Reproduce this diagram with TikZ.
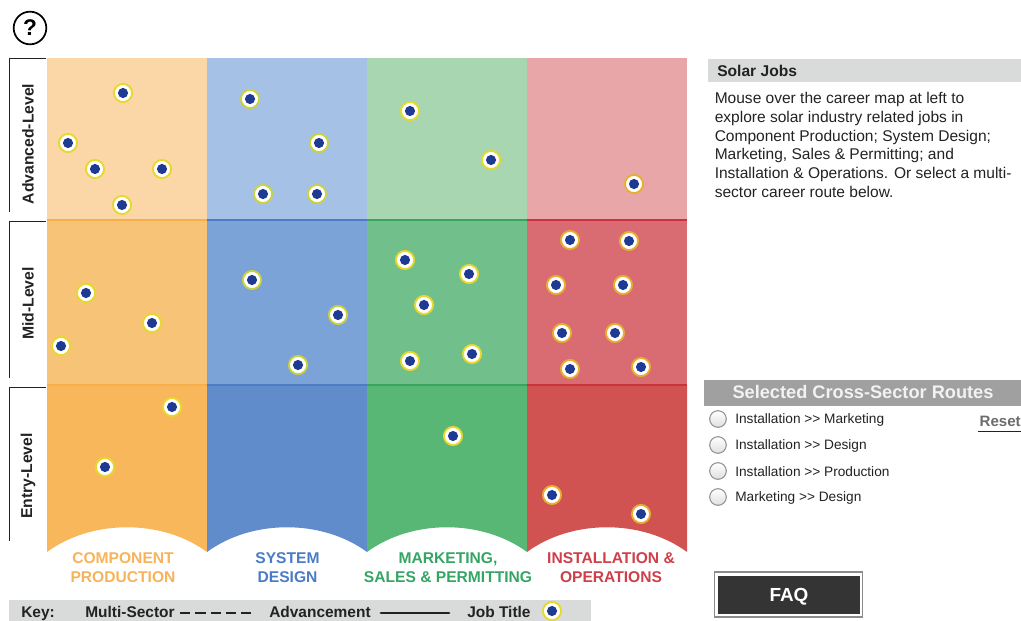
\documentclass[tikz,border=0pt]{standalone}
\usepackage{fontspec}
\setmainfont{Liberation Sans}
\definecolor{oA}{HTML}{FBD6A6}\definecolor{oB}{HTML}{F7C376}\definecolor{oC}{HTML}{F9B75C}\definecolor{oL}{HTML}{F9AE4A}
\definecolor{bA}{HTML}{A6C1E6}\definecolor{bB}{HTML}{7CA3D8}\definecolor{bC}{HTML}{618CCB}\definecolor{bL}{HTML}{4C7DC4}
\definecolor{gA}{HTML}{A7D6B1}\definecolor{gB}{HTML}{71C08B}\definecolor{gC}{HTML}{58B775}\definecolor{gL}{HTML}{3AA35E}
\definecolor{rA}{HTML}{E9A6A9}\definecolor{rB}{HTML}{D96C73}\definecolor{rC}{HTML}{D05352}\definecolor{rL}{HTML}{C8333C}
\definecolor{sO}{HTML}{F7B35A}\definecolor{sB}{HTML}{4A7CC6}\definecolor{sG}{HTML}{35A564}\definecolor{sR}{HTML}{CE3F4A}
\definecolor{txt}{HTML}{222222}
\definecolor{hdr}{HTML}{D9DADA}
\definecolor{hdrB}{HTML}{A0A0A0}
\definecolor{dotblue}{HTML}{1F3A93}
\definecolor{ringy}{HTML}{E6D92E}
\definecolor{ringb}{HTML}{C9D33C}
\definecolor{ringo}{HTML}{E8AE2E}
\tikzset{
  x=0.75pt,y=-0.75pt,
  jobdot/.style={circle,fill=white,draw=#1,line width=1.4pt,minimum size=13.6pt,inner sep=0pt,
    path picture={\fill[fill=dotblue] (path picture bounding box.center) circle (3.8pt);}},
  jobdot/.default=ringy,
  lvl/.style={rotate=90,font=\bfseries\fontsize{11.8}{12}\selectfont,text=txt,inner sep=0pt},
  sector/.style={font=\bfseries\fontsize{11.7}{14.2}\selectfont,align=center,inner sep=0pt,text=#1},
  route/.style={anchor=west,font=\fontsize{10.25}{11}\selectfont,text=txt,inner sep=0pt},
  radio/.style={circle,draw=gray!85,line width=.8pt,top color=white,bottom color=gray!25,minimum size=12.5pt,inner sep=0pt},
  keytxt/.style={anchor=base west,font=\bfseries\fontsize{11.6}{12}\selectfont,text=txt,inner sep=0pt},
  bodytxt/.style={anchor=north west,align=left,font=\fontsize{11.65}{14.1}\selectfont,text=txt,inner sep=0pt},
}
\begin{document}
\begin{tikzpicture}
\useasboundingbox (0,0) rectangle (1021,621);
% help icon
\node[circle,draw=black,line width=1.3pt,minimum size=24.5pt,inner sep=0pt,font=\bfseries\fontsize{17}{17}\selectfont] (help) at (30,28) {?};
% grid
\foreach \n/\xa/\ca/\cb/\cc/\cl in {0/47/oA/oB/oC/oL,1/207/bA/bB/bC/bL,2/367/gA/gB/gC/gL,3/527/rA/rB/rC/rL}{
  \fill[\ca] (\xa,58) rectangle ++(160,162);
  \fill[\cb] (\xa,220) rectangle ++(160,165);
  \fill[\cc] (\xa,385) -- ++(160,0) -- ++(0,167) .. controls +(-45,-33) and +(45,-33) .. ++(-160,0) -- cycle;
  \draw[\cl,line width=1pt] (\xa,220) -- ++(160,0);
  \draw[\cl,line width=1pt] (\xa,385) -- ++(160,0);
}
% level brackets
\draw[txt,line width=.7pt] (46,58) -- (9,58) -- (9,212);
\draw[txt,line width=.7pt] (46,221) -- (9,221) -- (9,378);
\draw[txt,line width=.7pt] (46,387) -- (9,387) -- (9,541);
\node[lvl] (advanced) at (28,144) {Advanced-Level};
\node[lvl] (mid) at (28,303.5) {Mid-Level};
\node[lvl] (entry) at (28,476) {Entry-Level};
% dots
\foreach \i/\px/\py in {a1/123/93,a2/68/143,a3/95/169,a4/162/169,a5/122/205,
  c1/410/111,c2/491/160,
  e1/86/293,e2/152/323,e3/61/346,
  g1/405/260,g2/469/274,g3/424/305,g4/410/361,g5/472/354,
  j1/172/407,j2/105/467,k1/453/436}
  \node[jobdot] (dot\i) at (\px,\py) {};
\foreach \i/\px/\py in {b1/250/99,b2/319/143,b3/263/194,b4/317/194,f1/252/280,f2/338/315,f3/298/365}
  \node[jobdot=ringb] (dot\i) at (\px,\py) {};
\foreach \i/\px/\py in {d1/634/184,h1/570/240,h2/629/241,h3/556/285,h4/623/285,h5/562/333,h6/615/333,h7/570/369,h8/641/367,m1/552/495,m2/641/514}
  \node[jobdot=ringo] (dot\i) at (\px,\py) {};
% sector labels
\node[sector=sO] (s1) at (123,567.5) {COMPONENT\\PRODUCTION};
\node[sector=sB] (s2) at (287.5,567.5) {SYSTEM\\DESIGN};
\node[sector=sG] (s3) at (448,567.5) {MARKETING,\\SALES \& PERMITTING};
\node[sector=sR] (s4) at (611,567.5) {INSTALLATION \&\\OPERATIONS};
% key
\fill[hdr] (9,600) rectangle (591,621);
\node[keytxt] (k1) at (21,617) {Key:};
\node[keytxt] (k2) at (85,617) {Multi-Sector};
\coordinate (dashA) at (180,612.5);\coordinate (dashB) at (251,612.5);
\draw[txt,line width=1.5pt,dash pattern=on 7.8pt off 3.7pt] (dashA) -- (dashB);
\node[keytxt] (k3) at (269,617) {Advancement};
\coordinate (solidA) at (381,613);\coordinate (solidB) at (449,613);
\draw[txt,line width=2.2pt,line cap=round] (solidA) -- (solidB);
\node[keytxt] (k4) at (467,617) {Job Title};
\node[jobdot] (keydot) at (552,611) {};
% info panel
\fill[hdr] (708,59) rectangle (1021,82);
\node[anchor=west,inner sep=0pt,font=\bfseries\fontsize{11.7}{12}\selectfont,text=txt] (title) at (717,70.5) {Solar Jobs};
\node[bodytxt] (body) at (714.5,92) {Mouse over the career map at left to\\explore solar industry related jobs in\\Component Production; System Design;\\Marketing, Sales \& Permitting; and\\Installation \& Operations. Or select a multi-\\sector career route below.};
% routes
\fill[hdrB] (704,380) rectangle (1021,406);
\node[inner sep=0pt,font=\bfseries\fontsize{13.65}{14}\selectfont,text=white!95!black] (rtitle) at (863,392) {Selected Cross-Sector Routes};
\foreach \i/\py/\t in {1/419/Installation >{}> Marketing,2/445/Installation >{}> Design,3/471/Installation >{}> Production,4/497/Marketing >{}> Design}{
  \node[radio] (r\i) at (718,\py) {};
  \node[route] (rt\i) at (735,\py+1) {\t};
}
\node[anchor=east,inner sep=0pt,font=\bfseries\fontsize{11.3}{12}\selectfont,text=gray!85!black] (reset) at (1021,421) {Reset};
\coordinate (resetA) at (978,431.5);\coordinate (resetB) at (1021,431.5);
\draw[txt,line width=1.4pt] (resetA) -- (resetB);
% FAQ
\node[draw=gray!90,line width=1.3pt,fill=white,minimum width=111pt,minimum height=33.5pt,inner sep=0pt] (faqo) at (788.5,594.5) {};
\node[fill=txt!92!white,minimum width=106.5pt,minimum height=28pt,inner sep=0pt,font=\bfseries\fontsize{14.2}{16}\selectfont,text=white,text height=10.2pt,text depth=0pt] (faq) at (789,595) {FAQ};
\end{tikzpicture}
\end{document}
